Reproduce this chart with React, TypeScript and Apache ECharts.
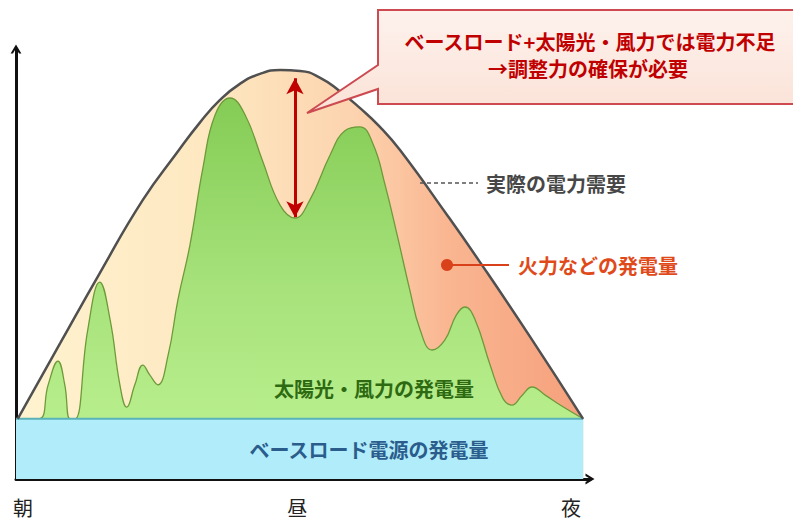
import React, { useEffect, useRef } from 'react';
import * as echarts from 'echarts';

// x: time of day (0 = morning edge, 100 = axis end), y: power (0 = x axis)
const timeLabels = ['朝', '昼', '夜'];
const timeLabelPos = [1.2, 49, 96.7];

const demandX = [0.3, 7.7, 14.6, 22.1, 28.0, 32.1, 35.5, 39.0, 42.5, 46.0, 49.5, 53.0, 56.4, 59.9, 63.4, 66.9, 75.1, 80.8, 89.6, 98.8];
const demandY = [14, 31.6, 47.9, 64.9, 75.8, 83.0, 88.1, 91.9, 94.2, 95.1, 94.9, 93.3, 90.2, 86.3, 81.9, 76.5, 61.4, 50.5, 33.0, 14];

const renewX = [0.3, 4.0, 5.6, 7.3, 8.5, 9.4, 10.3, 12.5, 14.6, 16.4, 18.1, 19.3, 20.7, 22.1, 23.3, 24.7, 26.5, 28.2, 30.3, 32.6, 34.7, 37.3, 39.9, 42.9, 46, 48.6, 51.2, 54.7, 57.3, 59.9, 62.2, 64.3, 66.6, 68.6, 70.4, 72.5, 74.7, 76.7, 78.2, 80, 82.6, 84.8, 86.4, 88.2, 89.9, 92.2, 94.8, 98.8];
const renewY = [14, 14, 21.9, 27.4, 21.9, 14, 14, 34.7, 45.8, 37, 21.9, 16.7, 21.9, 26.5, 24.2, 21.9, 28.8, 41.6, 54.4, 72.6, 84.7, 88.6, 84.7, 74.2, 63.7, 60.7, 64.9, 75.3, 81.0, 81.9, 77.9, 68.4, 55.6, 44, 34.7, 30, 32.3, 38.1, 40, 37, 26.5, 18.8, 17.2, 19.5, 21.4, 19.5, 17.2, 14];

const baseX = [0, 98.8];
const baseY = [14, 14];

// shortage gap marked at midday
const gapX = 48.6;
const gapTop = 93.2;
const gapBottom = 60.9;

const FONT = "'Noto Sans CJK JP', 'Noto Sans', sans-serif";

const zip = (xs: number[], ys: number[]) => xs.map((x, i) => [x, ys[i]]);

export default function App() {
  const ref = useRef<HTMLDivElement>(null);
  useEffect(() => {
    if (!ref.current) return;
    const chart = echarts.init(ref.current, undefined, { renderer: 'svg' });
    const chevron = 'path://M0,10 L6,0 L12,10 L9.4,10 L6,4.4 L2.6,10 Z';
    const txt = (text: string, x: number, y: number, fill: string, size = 20, weight = 'bold') => ({
      type: 'text',
      x,
      y,
      z: 20,
      style: {
        text,
        fill,
        fontSize: size,
        fontWeight: weight,
        fontFamily: FONT,
        align: 'center',
        verticalAlign: 'middle',
      },
    });
    chart.setOption({
      animation: false,
      grid: { left: 16, right: 203, top: 49, bottom: 44 },
      xAxis: {
        type: 'value',
        min: 0,
        max: 100,
        splitLine: { show: false },
        axisTick: { show: false },
        axisLine: {
          show: true,
          symbol: ['none', chevron],
          symbolSize: [14, 9],
          lineStyle: { color: '#111', width: 3 },
        },
        axisLabel: {
          show: true,
          customValues: timeLabelPos,
          formatter: (v: number) => {
            const i = timeLabelPos.findIndex((p) => Math.abs(p - v) < 1e-6);
            return i >= 0 ? timeLabels[i] : '';
          },
          margin: 18,
          fontSize: 20,
          color: '#222',
          fontFamily: FONT,
        },
      },
      yAxis: {
        type: 'value',
        min: 0,
        max: 100,
        splitLine: { show: false },
        axisTick: { show: false },
        axisLabel: { show: false },
        axisLine: {
          show: true,
          symbol: ['none', chevron],
          symbolSize: [14, 9],
          lineStyle: { color: '#111', width: 3 },
        },
      },
      series: [
        {
          type: 'line',
          data: zip(demandX, demandY),
          smooth: 0.5,
          symbol: 'none',
          z: 1,
          lineStyle: { width: 0 },
          areaStyle: {
            opacity: 1,
            color: new echarts.graphic.LinearGradient(0, 0, 1, 0, [
              { offset: 0, color: '#fff3cf' },
              { offset: 0.35, color: '#fde7c0' },
              { offset: 0.6, color: '#fcd3ae' },
              { offset: 0.76, color: '#f9b691' },
              { offset: 1, color: '#f6a07c' },
            ]),
          },
          silent: true,
        },
        {
          type: 'line',
          data: zip(renewX, renewY),
          smooth: 0.45,
          symbol: 'none',
          z: 2,
          lineStyle: { color: '#6e9a3a', width: 1.3 },
          areaStyle: {
            opacity: 1,
            color: new echarts.graphic.LinearGradient(0, 0, 0, 1, [
              { offset: 0, color: '#84cc55' },
              { offset: 0.5, color: '#a7e27b' },
              { offset: 1, color: '#bff494' },
            ]),
          },
          silent: true,
          markLine: {
            silent: true,
            symbol: ['arrow', 'arrow'],
            symbolSize: [13, 16],
            label: { show: false },
            lineStyle: { color: '#c00000', width: 3, type: 'solid' },
            data: [[{ coord: [gapX, gapTop] }, { coord: [gapX, gapBottom] }]],
          },
        },
        {
          type: 'line',
          data: zip(baseX, baseY),
          symbol: 'none',
          z: 3,
          lineStyle: { color: '#5ab2b9', width: 2 },
          areaStyle: { opacity: 1, color: '#b1ecfa' },
          silent: true,
        },
        {
          type: 'line',
          data: zip(demandX, demandY),
          smooth: 0.5,
          symbol: 'none',
          z: 4,
          lineStyle: { color: '#505050', width: 2.5 },
          silent: true,
        },
      ],
      graphic: [
        {
          type: 'polygon',
          z: 10,
          shape: {
            points: [
              [378, 10],
              [805, 10],
              [805, 104],
              [378, 104],
              [378, 89],
              [307, 113],
              [378, 65],
            ],
          },
          style: {
            fill: new echarts.graphic.LinearGradient(0, 0, 0, 1, [
              { offset: 0, color: '#fdf2ed' },
              { offset: 1, color: '#fbe2d7' },
            ]),
            stroke: '#cc4a50',
            lineWidth: 2,
          },
        },
        txt('ベースロード+太陽光・風力では電力不足', 590, 41, '#c00000'),
        txt('→調整力の確保が必要', 588, 68, '#c00000'),
        {
          type: 'line',
          z: 15,
          shape: { x1: 420, y1: 183, x2: 478, y2: 183 },
          style: { stroke: '#555', lineWidth: 1.5, lineDash: [4, 3] },
        },
        txt('実際の電力需要', 556, 183, '#474747'),
        {
          type: 'line',
          z: 15,
          shape: { x1: 447, y1: 265, x2: 509, y2: 265 },
          style: { stroke: '#d9411b', lineWidth: 2 },
        },
        {
          type: 'circle',
          z: 16,
          shape: { cx: 447, cy: 265, r: 6 },
          style: { fill: '#d9411b' },
        },
        txt('火力などの発電量', 598, 265, '#e04a1a'),
        txt('太陽光・風力の発電量', 374, 388, '#2e6a12'),
        txt('ベースロード電源の発電量', 369, 449, '#2a5d8c'),
      ],
    });
    return () => chart.dispose();
  }, []);
  return <div ref={ref} style={{ position: 'absolute', left: 0, top: 0, width: 793, height: 523 }} />;
}
